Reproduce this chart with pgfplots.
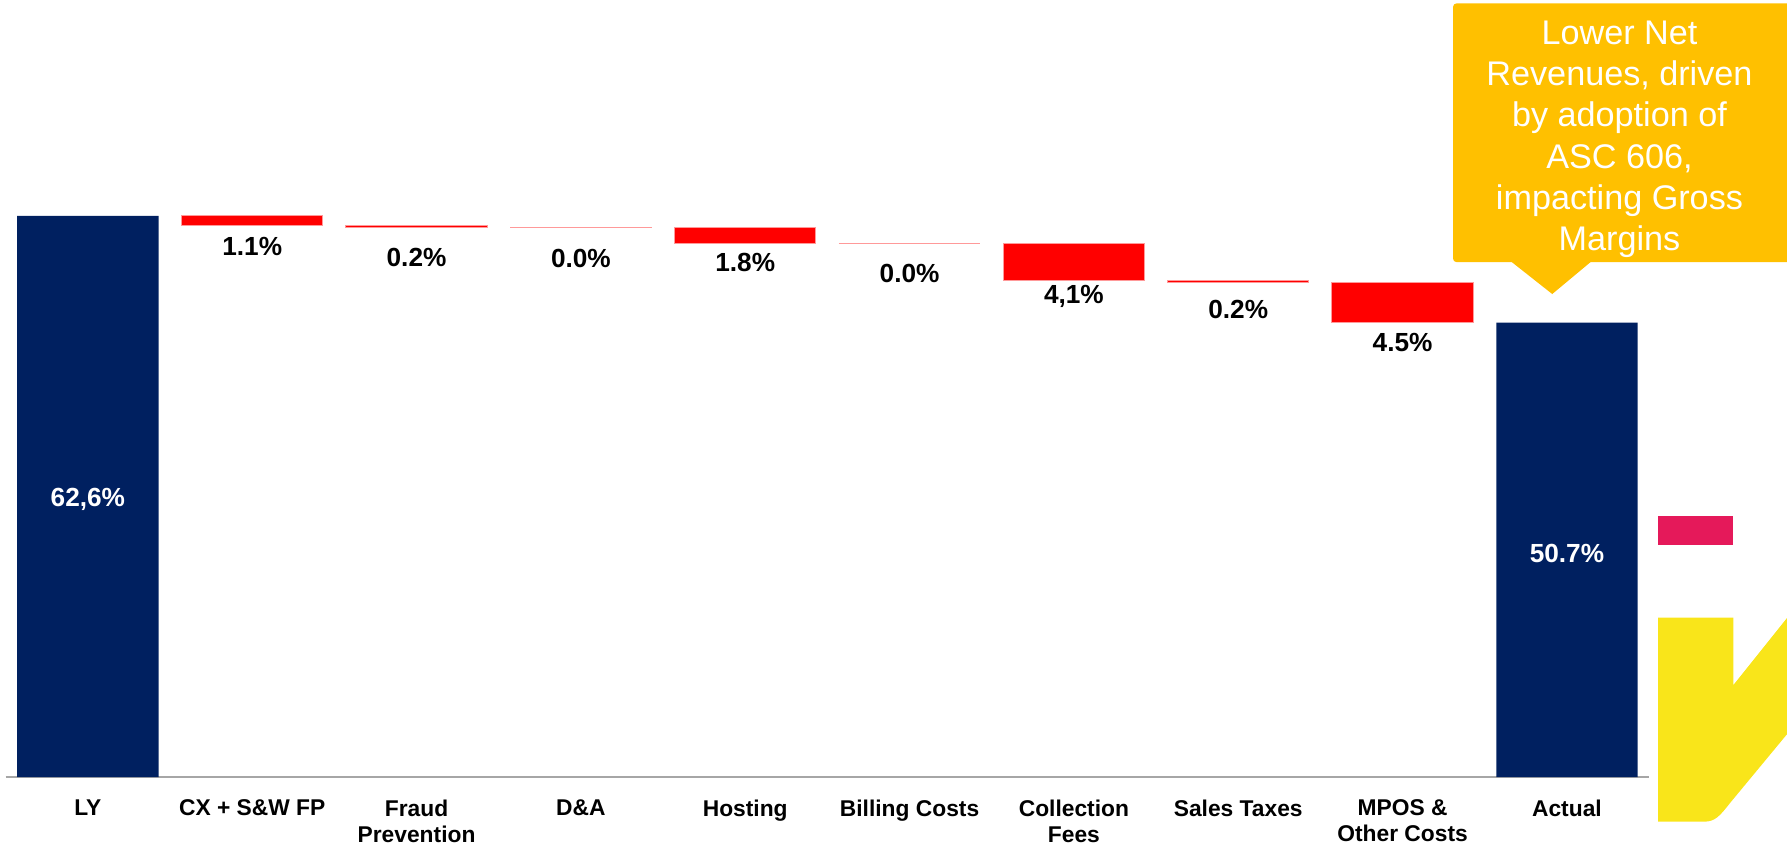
\documentclass[border=0pt]{standalone}
\usepackage{fontspec}
\setmainfont{Liberation Sans}
\usepackage{pgfplots}
\pgfplotsset{compat=1.18}
\definecolor{navy}{HTML}{002060}
\definecolor{wred}{HTML}{FF0000}
\definecolor{gold}{HTML}{FFC000}
\definecolor{logopink}{HTML}{E5195A}
\definecolor{logoyellow}{HTML}{F9E51A}
\begin{document}
\begin{tikzpicture}
\useasboundingbox (-2.5pt,-30pt) rectangle (781.5pt,341pt);
\pgfplotsset{common/.style={width=721pt,height=341pt,scale only axis,
  xmin=-0.5,xmax=9.5,ymin=0,ymax=86.66,at={(0pt,0pt)},anchor=south west}}
% floating (waterfall) bars
\begin{axis}[common, hide axis, ybar stacked, bar width=0.86]
\addplot[fill=none,draw=none] coordinates {(1,61.5) (2,61.3) (3,61.3) (4,59.5) (5,59.5) (6,55.4) (7,55.2) (8,50.7)};
\addplot[fill=wred,draw=wred!40,line width=0.4pt] coordinates {(1,1.1) (2,0.2) (3,0.0) (4,1.8) (5,0.0) (6,4.1) (7,0.2) (8,4.5)};
\end{axis}
% totals, axis line, labels
\begin{axis}[common, clip=false,
  axis x line*=bottom, axis y line=none, ytick=\empty,
  x axis line style={draw=black!35, line width=0.8pt},
  xtick={0,...,9}, major tick length=0pt,
  xticklabels={LY, CX + S\&W FP, {Fraud\\Prevention}, D\&A, Hosting, Billing Costs, {Collection\\Fees}, Sales Taxes, {MPOS \&\\Other Costs}, Actual},
  xticklabel style={font=\fontsize{10}{11.5}\selectfont\bfseries, align=center, anchor=north, inner sep=0pt, yshift=-9.6pt}]
\addplot[ybar,bar width=0.86,bar shift=0pt,fill=navy,draw=none] coordinates {(0,62.6) (9,50.7)};
% zero-change steps (D&A, Billing Costs) drawn as thin lines
\addplot[draw=wred!40, line width=0.7pt, mark=none] coordinates {(2.57,61.3) (3.43,61.3)};
\addplot[draw=wred!40, line width=0.7pt, mark=none] coordinates {(4.57,59.5) (5.43,59.5)};
\addplot[draw=none, mark=none, nodes near coords, point meta=explicit symbolic,
  nodes near coords style={font=\fontsize{11.5}{13}\selectfont\bfseries, text=black, anchor=center}]
  coordinates {(1,59.2) [1.1\%] (2,57.9) [0.2\%] (3,57.8) [0.0\%] (4,57.4) [1.8\%] (5,56.2) [0.0\%] (6,53.6) [4,1\%] (7,52.2) [0.2\%] (8,48.5) [4.5\%]};
\addplot[draw=none, mark=none, nodes near coords, point meta=explicit symbolic,
  nodes near coords style={font=\fontsize{11.5}{13}\selectfont\bfseries, text=white, anchor=center}]
  coordinates {(0,31.0) [62,6\%] (9,24.9) [50.7\%]};
\end{axis}
% callout
\fill[gold, rounded corners=1.5pt] (635pt,226pt) rectangle (786pt,339.5pt);
\fill[gold] (659.5pt,227pt) -- (678.5pt,212pt) -- (696.5pt,227pt) -- cycle;
\node[text=white, align=center, font=\fontsize{15}{18.1}\selectfont, inner sep=0pt, anchor=north] at (708pt,332pt)
  {Lower Net\\Revenues, driven\\by adoption of\\ASC 606,\\impacting Gross\\Margins};
% logo
\fill[logopink] (725pt,102pt) rectangle (758pt,114.5pt);
\fill[logoyellow] (725pt,70pt) -- (758pt,70pt) -- (758pt,40.5pt) -- (782pt,70.5pt) -- (782pt,19.5pt) -- (756.5pt,-11.3pt)
  .. controls (752pt,-17pt) and (750pt,-19.5pt) .. (745pt,-19.5pt) -- (725pt,-19.5pt) -- cycle;
\end{tikzpicture}
\end{document}
